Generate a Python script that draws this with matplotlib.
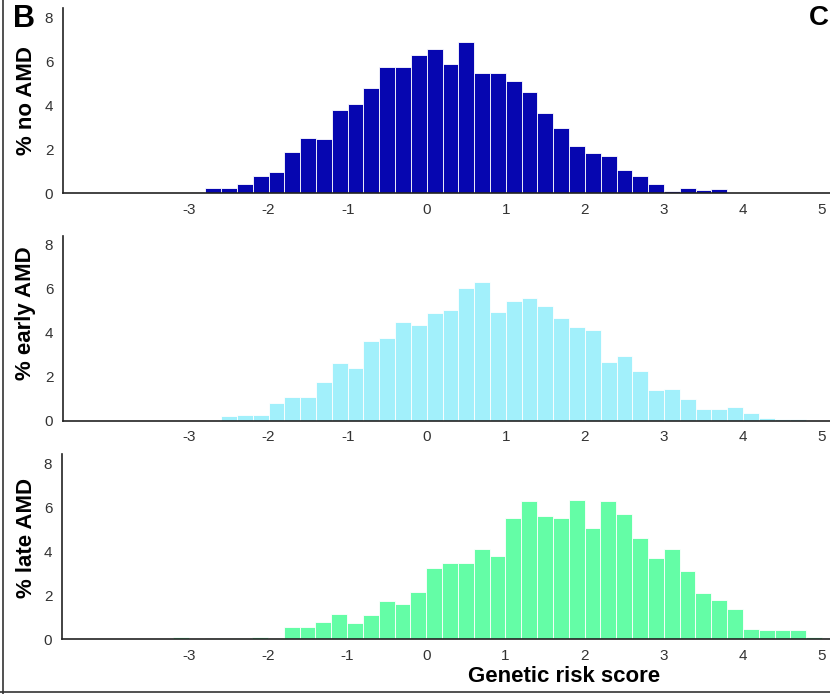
import numpy as np
import matplotlib.pyplot as plt
from matplotlib.lines import Line2D

plt.rcParams['font.family'] = ['Liberation Sans', 'DejaVu Sans']
plt.rcParams['axes.unicode_minus'] = False

# bin starts (width 0.2) of the genetic risk score
score_bins = np.round(np.arange(-3.2, 5.1, 0.2), 1)

# percentage of subjects per bin
no_amd = [0, 0.07, 0.22, 0.22, 0.42, 0.79, 0.97, 1.87, 2.5, 2.47, 3.8, 4.07, 4.79, 5.74, 5.74, 6.26,
          6.55, 5.89, 6.86, 5.47, 5.44, 5.09, 4.6, 3.64, 2.97, 2.16, 1.84, 1.71, 1.08, 0.79, 0.42,
          0.1, 0.22, 0.16, 0.21, 0, 0, 0, 0, 0, 0, 0]
early_amd = [0, 0.05, 0, 0.23, 0.26, 0.26, 0.79, 1.08, 1.08, 1.77, 2.62, 2.39, 3.63, 3.77, 4.48, 4.34,
             4.88, 5.02, 6.02, 6.28, 4.95, 5.43, 5.55, 5.21, 4.66, 4.25, 4.1, 2.67, 2.94, 2.24, 1.39,
             1.45, 0.99, 0.55, 0.55, 0.61, 0.37, 0.12, 0.09, 0.09, 0, 0]
late_amd = [0.09, 0, 0.08, 0.08, 0.08, 0.12, 0.08, 0.54, 0.54, 0.8, 1.15, 0.72, 1.1, 1.75, 1.6, 2.14,
            3.26, 3.47, 3.47, 4.12, 3.77, 5.52, 6.26, 5.58, 5.52, 6.31, 5.07, 6.26, 5.7, 4.59, 3.67,
            4.12, 3.11, 2.1, 1.8, 1.37, 0.48, 0.44, 0.44, 0.44, 0.12, 0.08]

groups = ['% no AMD', '% early AMD', '% late AMD']
colors = ['#0606b0', '#a2f0fb', '#64fda6']
x_ticks = [-3, -2, -1, 0, 1, 2, 3, 4, 5]
y_ticks = [0, 2, 4, 6, 8]

W, H = 830, 694
fig = plt.figure(figsize=(W / 100, H / 100), dpi=100)

# axes boxes in pixels: left, bottom (baseline), top
boxes = [(63, 193.3, 8.3), (63, 420.7, 235.7), (62, 639.3, 454.3)]
label_y = [101, 313, 538]

for (left, base, top), name, vals, col, ly in zip(boxes, groups,
                                                 [no_amd, early_amd, late_amd], colors, label_y):
    ax = fig.add_axes([left / W, 1 - base / H, 1 - left / W, (base - top) / H])
    ax.bar(score_bins, vals, width=0.2, align='edge', color=col,
           edgecolor='white', linewidth=0.6)
    ax.set_xlim(-4.6, 5.1)
    ax.set_ylim(0, 8.4)
    ax.set_xticks(x_ticks)
    ax.set_yticks(y_ticks)
    ax.tick_params(length=0, labelsize=11, labelcolor='#333333', pad=7)
    for s in ['top', 'right']:
        ax.spines[s].set_visible(False)
    for s in ['left', 'bottom']:
        ax.spines[s].set_linewidth(1.2)
        ax.spines[s].set_color('#222222')
    fig.text(26 / W, 1 - ly / H, name, rotation=90, ha='center', va='center',
             fontsize=16, fontweight='bold')

fig.text(564 / W, 1 - 677 / H, 'Genetic risk score', ha='center', va='center',
         fontsize=16, fontweight='bold')
fig.text(13 / W, 1 - 19 / H, 'B', ha='left', va='center', fontsize=22, fontweight='bold')
fig.text(829 / W, 1 - 18 / H, 'C', ha='right', va='center', fontsize=20, fontweight='bold')

# frame around the panel
fig.add_artist(Line2D([2.5 / W, 2.5 / W], [0, 1], color='#333333', lw=1.2))
fig.add_artist(Line2D([0, 1], [1 - 691.5 / H, 1 - 691.5 / H], color='#333333', lw=1.2))

fig.savefig('out.png', dpi=100)
